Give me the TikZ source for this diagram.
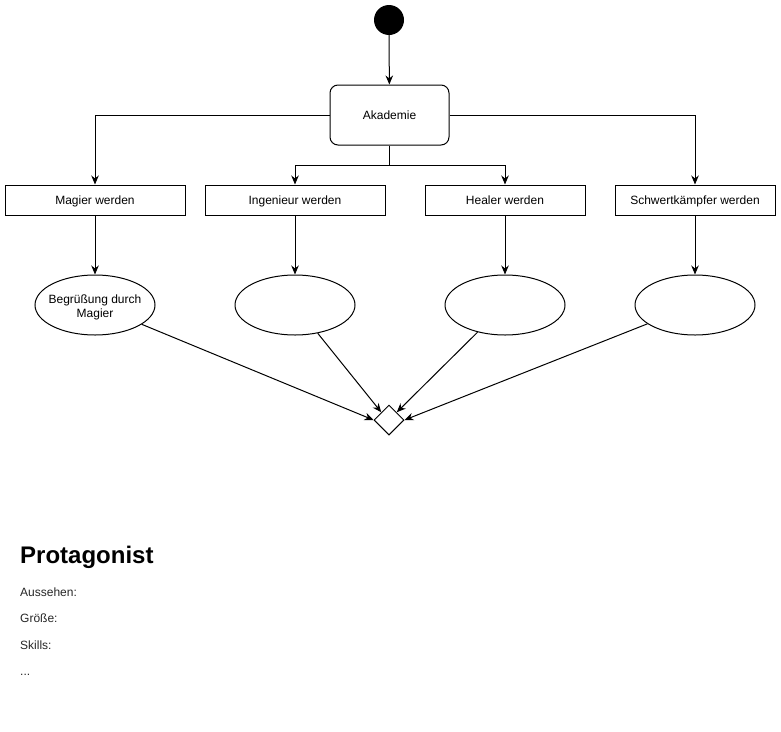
\documentclass[tikz,border=0pt]{standalone}
\usepackage{fontspec}
\setmainfont{Liberation Sans}
\usetikzlibrary{shapes.geometric,arrows.meta}
\begin{document}
\begin{tikzpicture}[x=1pt,y=-1pt,
  every node/.style={font=\fontsize{12}{14}\selectfont, inner sep=0pt},
  conn/.style={draw=black, line width=1pt, -{Stealth[length=9pt,width=7.5pt]}},
  plain/.style={draw=black, line width=1pt},
  actbox/.style={draw=black, line width=1pt, rectangle, minimum height=30pt, align=center, text height=10pt, text depth=2pt},
  stateell/.style={draw=black, line width=1pt, ellipse, minimum width=120pt, minimum height=60pt},
  bodytext/.style={anchor=base west, font=\fontsize{12}{14}\selectfont, text=black!85}
]
\useasboundingbox (0,0) rectangle (781,731);
\node[circle, fill=black, minimum size=30pt] (start) at (389,20) {};
\node[actbox, rounded corners=8pt, minimum width=119pt, minimum height=60pt] (ak) at (389.5,115) {Akademie};
\node[actbox, minimum width=180pt] (mag) at (95,200) {Magier werden};
\node[actbox, minimum width=180pt] (ing) at (295,200) {Ingenieur werden};
\node[actbox, minimum width=160pt] (heal) at (505,200) {Healer werden};
\node[actbox, minimum width=160pt] (sch) at (695,200) {Schwertkämpfer werden};
\node[stateell] (e1) at (95,305) {};
\node[align=center] (e1t) at (95,307) {Begrüßung durch\\Magier};
\node[stateell] (e2) at (295,305) {};
\node[stateell] (e3) at (505,305) {};
\node[stateell] (e4) at (695,305) {};
\node[diamond, draw=black, line width=1pt, minimum width=30pt, minimum height=30pt] (d) at (389,420) {};
\coordinate (j) at (389.5,165);

\draw[conn] (start) -- (ak);
\draw[conn] (ak.west) -| (mag.north);
\draw[conn] (ak.east) -| (sch.north);
\draw[plain] (ak.south) -- (j);
\draw[conn] (j) -| (ing.north);
\draw[conn] (j) -| (heal.north);
\draw[conn] (mag) -- (e1);
\draw[conn] (ing) -- (e2);
\draw[conn] (heal) -- (e3);
\draw[conn] (sch) -- (e4);
\draw[conn] (e1) -- (d.west);
\draw[conn] (e2) -- (d.north west);
\draw[conn] (e3) -- (d.north east);
\draw[conn] (e4) -- (d.east);

\node[anchor=base west, font=\bfseries\fontsize{24}{28}\selectfont] (title) at (20,563) {Protagonist};
\node[bodytext] (t1) at (20,596) {Aussehen:};
\node[bodytext] (t2) at (20,622) {Größe:};
\node[bodytext] (t3) at (20,649) {Skills:};
\node[bodytext] (t4) at (20,675) {...};
\end{tikzpicture}
\end{document}
